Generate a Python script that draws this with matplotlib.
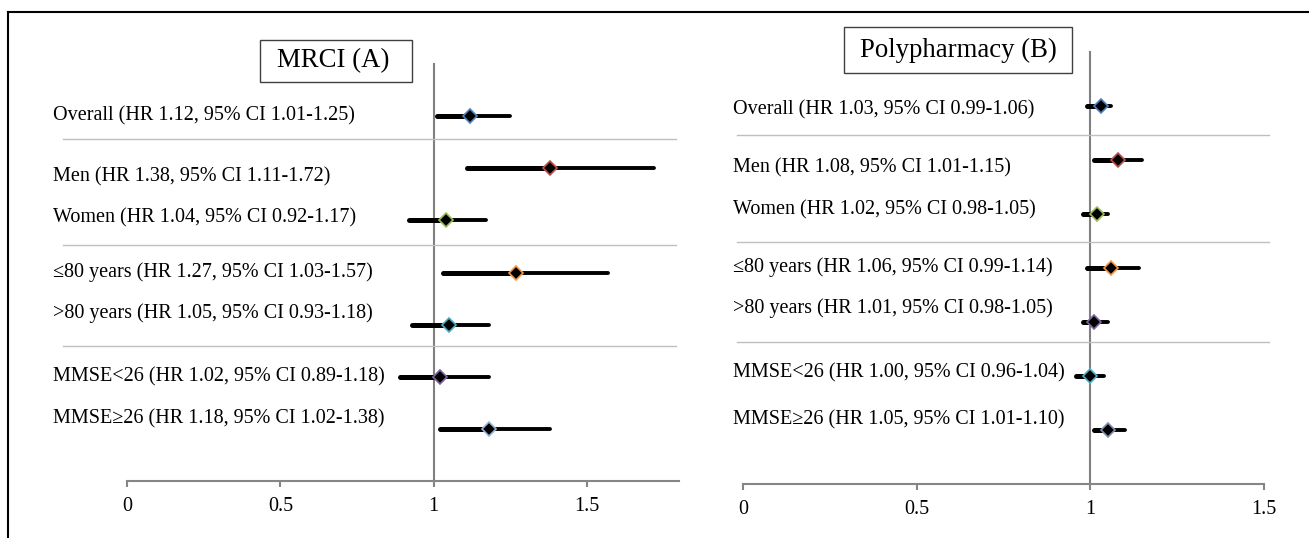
import matplotlib.pyplot as plt
from matplotlib.lines import Line2D
from matplotlib.patches import Rectangle
import numpy as np

plt.rcParams['font.family'] = ['Liberation Serif', 'DejaVu Serif']

groups = ["Overall", "Men", "Women", "≤80 years", ">80 years", "MMSE<26", "MMSE≥26"]

mrci_hr = [1.12, 1.38, 1.04, 1.27, 1.05, 1.02, 1.18]
mrci_lo = [1.01, 1.11, 0.92, 1.03, 0.93, 0.89, 1.02]
mrci_hi = [1.25, 1.72, 1.17, 1.57, 1.18, 1.18, 1.38]

poly_hr = [1.03, 1.08, 1.02, 1.06, 1.01, 1.00, 1.05]
poly_lo = [0.99, 1.01, 0.98, 0.99, 0.98, 0.96, 1.01]
poly_hi = [1.06, 1.15, 1.05, 1.14, 1.05, 1.04, 1.10]

xticks = [0, 0.5, 1, 1.5]
xtick_labels = ["0", "0.5", "1", "1.5"]

mrci_edge = ['#4F81BD', '#C0504D', '#9BBB59', '#F79646', '#4BACC6', '#8064A2', '#95B3D7']
poly_edge = ['#4F81BD', '#C0504D', '#9BBB59', '#F79646', '#8064A2', '#4BACC6', '#7F8FB0']

W, H = 1309, 538
fig = plt.figure(figsize=(W / 100, H / 100), dpi=100)


def forest(ax, hr, lo, hi, edges, xmax, text_x, text_dy, seps, sep_x):
    ys = np.arange(len(hr), 0, -1)
    ax.set_xlim(0, xmax)
    ax.set_ylim(0, 8)
    ax.plot([1, 1], [0, 8], color='#808080', lw=1.5, zorder=1, clip_on=False)
    for s in seps:
        ax.plot(sep_x, [s, s], color='#BFBFBF', lw=1, clip_on=False, zorder=1)
    for i, y in enumerate(ys):
        ax.plot([lo[i], hr[i]], [y, y], color='k', lw=3.6,
                solid_capstyle='round', zorder=3, clip_on=False)
        ax.plot([hr[i], hi[i]], [y, y], color='k', lw=2.8,
                solid_capstyle='round', zorder=3, clip_on=False)
        ax.plot(hr[i], y, marker='D', ms=7, mfc='k', mec=edges[i],
                mew=1.2, zorder=4, clip_on=False)
        label = "%s (HR %.2f, 95%% CI %.2f-%.2f)" % (groups[i], hr[i], lo[i], hi[i])
        ax.text(text_x, y + text_dy[i], label, ha='left', va='center',
                fontsize=14.5, clip_on=False)
    for side in ['left', 'top', 'right']:
        ax.spines[side].set_visible(False)
    ax.spines['bottom'].set_color('#868686')
    ax.spines['bottom'].set_linewidth(1.5)
    ax.set_yticks([])
    ax.set_xticks(xticks)
    ax.set_xticklabels(xtick_labels)
    ax.tick_params(axis='x', direction='out', length=4.5, width=1.5,
                   color='#868686', labelsize=14.5, pad=7)
    ax.patch.set_alpha(0)


# left panel: MRCI
ax1 = fig.add_axes([127 / W, 1 - 481 / H, 552 / W, 417 / H])
forest(ax1, mrci_hr, mrci_lo, mrci_hi, mrci_edge, 1.8, -0.24,
       [0, -0.17, 0.05, 0, 0.23, 0, 0.19], [6.57, 4.52, 2.59], [-0.21, 1.79])

# right panel: polypharmacy
ax2 = fig.add_axes([743 / W, 1 - 484 / H, 521 / W, 432 / H])
forest(ax2, poly_hr, poly_lo, poly_hi, poly_edge, 1.5, -0.03,
       [-0.07, -0.15, 0.07, 0.02, 0.26, 0.06, 0.19], [6.46, 4.48, 2.63], [-0.017, 1.515])

# title boxes
fig.add_artist(Rectangle((260 / W, 1 - 82 / H), 152 / W, 42 / H, transform=fig.transFigure,
                         fill=False, edgecolor='#404040', lw=1))
fig.text(333 / W, 1 - 61 / H, "MRCI (A)", ha='center', va='center', fontsize=19.3)
fig.add_artist(Rectangle((844 / W, 1 - 73 / H), 228 / W, 46 / H, transform=fig.transFigure,
                         fill=False, edgecolor='#404040', lw=1))
fig.text(958 / W, 1 - 50 / H, "Polypharmacy (B)", ha='center', va='center', fontsize=19.3)

# outer frame lines
fig.add_artist(Line2D([8 / W, 1], [1 - 12 / H, 1 - 12 / H], transform=fig.transFigure,
                      color='k', lw=1.5))
fig.add_artist(Line2D([8 / W, 8 / W], [0, 1 - 12 / H], transform=fig.transFigure,
                      color='k', lw=1.5))

fig.savefig("out.png", dpi=100)
